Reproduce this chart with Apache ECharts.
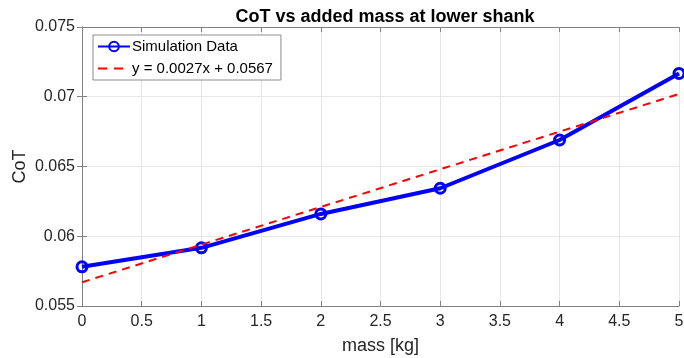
<!DOCTYPE html>
<html>
<head>
<meta charset="utf-8">
<script src="https://cdn.jsdelivr.net/npm/echarts@6/dist/echarts.min.js"></script>
<style>
  html, body { margin: 0; padding: 0; background: #fff; }
  #chart { width: 684px; height: 358px; }
</style>
</head>
<body>
<div id="chart"></div>
<script>
// Added mass at the lower shank [kg] and resulting cost of transport
const massKg = [0, 1, 2, 3, 4, 5];
const cotSim = [0.05781, 0.05917, 0.0616, 0.06344, 0.0669, 0.07167];

// Linear fit reported in the legend: y = slope * x + intercept
const fitSlope = 0.0027;
const fitIntercept = 0.0567;
const fitX = [0, 5];

const simName = 'Simulation Data';
const fitName = 'y = 0.0027x + 0.0567';

const simData = massKg.map((m, i) => [m, cotSim[i]]);
const fitData = fitX.map(m => [m, fitSlope * m + fitIntercept]);

const FONT = '"Liberation Sans", Arial, Helvetica, sans-serif';
const AX = '#262626';
const AXLINE = '#808080';
const GRID = '#e6e6e6';

function fmtY(v) {
  // shortest decimal form of the tick value
  return String(parseFloat(v.toFixed(4)));
}

const chart = echarts.init(document.getElementById('chart'), null, { renderer: 'canvas' });

const baseX = {
  type: 'value', min: 0, max: 5, interval: 0.5,
  axisLine: { show: true, lineStyle: { color: AXLINE, width: 1 } },
  axisTick: { show: true, inside: true, length: 5, lineStyle: { color: AXLINE } },
  splitLine: { show: false }
};
const baseY = {
  type: 'value', min: 0.055, max: 0.075, interval: 0.005,
  axisLine: { show: true, lineStyle: { color: AXLINE, width: 1 } },
  axisTick: { show: true, inside: true, length: 5, lineStyle: { color: AXLINE } },
  splitLine: { show: false }
};

chart.setOption({
  animation: false,
  backgroundColor: '#fff',
  title: {
    text: 'CoT vs added mass at lower shank',
    left: 380, top: 3, textAlign: 'center',
    textStyle: { fontFamily: FONT, fontSize: 18, fontWeight: 'bold', color: '#000' }
  },
  grid: {
    left: 82, right: 5, top: 27, bottom: 52,
    containLabel: false, outerBoundsMode: 'none'
  },
  legend: {
    orient: 'vertical', left: 93, top: 35,
    backgroundColor: '#fff',
    borderColor: '#8c8c8c', borderWidth: 1,
    padding: [4, 8, 4, 4],
    itemWidth: 32, itemHeight: 12, itemGap: 7,
    textStyle: { fontFamily: FONT, fontSize: 15, color: '#000', padding: [0, 0, 0, -3] },
    data: [
      { name: simName },
      {
        name: fitName,
        itemStyle: { color: 'rgba(0,0,0,0)', borderWidth: 0 },
        lineStyle: { type: [9, 7] }
      }
    ]
  },
  xAxis: [
    Object.assign({}, baseX, {
      position: 'bottom',
      name: 'mass [kg]', nameLocation: 'middle', nameGap: 31, nameMoveOverlap: false,
      nameTextStyle: { fontFamily: FONT, fontSize: 18, color: AX },
      axisLabel: { show: true, margin: 8, fontFamily: FONT, fontSize: 16, color: AX },
      splitLine: { show: true, lineStyle: { color: GRID, width: 1 } }
    }),
    Object.assign({}, baseX, { position: 'top', axisLabel: { show: false } })
  ],
  yAxis: [
    Object.assign({}, baseY, {
      position: 'left',
      name: 'CoT', nameLocation: 'middle', nameGap: 53, nameMoveOverlap: false,
      nameTextStyle: { fontFamily: FONT, fontSize: 18, color: AX },
      axisLabel: { show: true, margin: 7, fontFamily: FONT, fontSize: 16, color: AX, formatter: fmtY },
      splitLine: { show: true, lineStyle: { color: GRID, width: 1 } }
    }),
    Object.assign({}, baseY, { position: 'right', axisLabel: { show: false } })
  ],
  series: [
    {
      name: simName, type: 'line', data: simData,
      xAxisIndex: 0, yAxisIndex: 0, z: 3,
      symbol: 'circle', symbolSize: 10, showAllSymbol: true,
      lineStyle: { color: '#0000ff', width: 4 },
      itemStyle: { color: 'rgba(0,0,255,0)', borderColor: '#0000ff', borderWidth: 3 }
    },
    {
      name: fitName, type: 'line', data: fitData,
      xAxisIndex: 0, yAxisIndex: 0, z: 4,
      symbol: 'none',
      lineStyle: { color: '#ff0000', width: 2, type: [8, 6] },
      itemStyle: { color: '#ff0000' }
    }
  ]
});
</script>
</body>
</html>
